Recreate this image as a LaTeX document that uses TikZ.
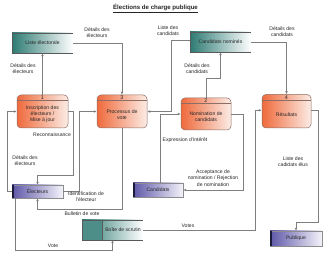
\documentclass[tikz,border=0pt]{standalone}
\usepackage{fontspec}
\setmainfont{Liberation Sans}
\usetikzlibrary{arrows.meta,calc}
\definecolor{procL}{HTML}{EF6A3C}
\definecolor{procR}{HTML}{FCECE5}
\definecolor{procB}{HTML}{8C6E64}
\definecolor{tealL}{HTML}{2E7B73}
\definecolor{extL}{HTML}{5E57A8}
\definecolor{extR}{HTML}{F4F3FA}
\definecolor{navyB}{HTML}{1B1B3A}
\definecolor{lineG}{HTML}{7F7F7F}
\definecolor{txt}{HTML}{262626}
\begin{document}
\begin{tikzpicture}[x=1pt,y=-1pt,
  flow/.style={draw=lineG, line width=0.55pt, -{Latex[length=3pt,width=2.6pt]}},
  lbl/.style={font=\fontsize{5.1}{6.3}\selectfont, align=center, inner sep=0, text=txt},
  proc/.style={rounded corners=4pt, draw=procB, line width=0.5pt, left color=procL, right color=procR, inner sep=0},
  hdr/.style={draw=procB, line width=0.5pt},
  num/.style={font=\fontsize{5.4}{6}\selectfont, inner sep=0, text=txt},
  store/.style={left color=tealL, right color=white, inner sep=0, minimum width=61, minimum height=20, font=\fontsize{5.1}{6.3}\selectfont, text=txt},
  storeline/.style={draw=black!65, line width=0.5pt},
  ext/.style={left color=extL, right color=extR, draw=black!45, line width=0.4pt, inner sep=0, font=\fontsize{5.1}{6.3}\selectfont, text=txt},
  extbar/.style={draw=navyB, line width=2pt}
]
\useasboundingbox[fill=white] (0,0) rectangle (330,253);

% title
\node[font=\fontsize{6.1}{7}\selectfont\bfseries, inner sep=0, text=txt] (title) at (155.5,8) {\underline{Élections de charge publique}};

% data stores
\node[store] (le) at (42.5,43) {Liste électorale};
\draw[storeline] (le.north west) -- (le.north east) (le.south west) -- (le.south east) (le.north west) -- (le.south west);
\node[store] (cn) at (220.5,42) {Candidats nominés};
\draw[storeline] (cn.north west) -- (cn.north east) (cn.south west) -- (cn.south east) (cn.north west) -- (cn.south west);

% processes
\node[proc, minimum width=51, minimum height=33] (p1) at (42.5,111.5) {};
\draw[hdr] ($(p1.north west)+(0,6)$) -- ($(p1.north east)+(0,6)$);
\node[num] (n1) at ($(p1.north)+(0,3.1)$) {1};
\node[lbl] (t1) at (42.5,114) {Inscription des\\électeurs /\\Mise à jour};

\node[proc, minimum width=50, minimum height=33] (p3) at (122,111.5) {};
\draw[hdr] ($(p3.north west)+(0,6)$) -- ($(p3.north east)+(0,6)$);
\node[num] (n3) at ($(p3.north)+(0,3.1)$) {3};
\node[lbl] (t3) at (122,114.5) {Processus de\\vote};

\node[proc, minimum width=50, minimum height=32] (p2) at (206,114) {};
\draw[hdr] ($(p2.north west)+(0,5.8)$) -- ($(p2.north east)+(0,5.8)$);
\node[num] (n2) at ($(p2.north)+(0,3)$) {2};
\node[lbl] (t2) at (206,116.5) {Nomination de\\candidats};

\node[proc, minimum width=49, minimum height=33.5] (p4) at (286.5,111.25) {};
\draw[hdr] ($(p4.north west)+(0,6)$) -- ($(p4.north east)+(0,6)$);
\node[num] (n4) at ($(p4.north)+(0,3.1)$) {4};
\node[lbl] (t4) at (286.5,115) {Résultats};

% externals
\node[ext, minimum width=51, minimum height=13] (el) at (37.5,191.5) {Électeurs};
\draw[extbar] ($(el.north west)+(1,0)$) -- ($(el.south west)+(1,0)$);
\node[ext, minimum width=50, minimum height=14] (ca) at (158,190) {Candidats};
\draw[extbar] ($(ca.north west)+(1,0)$) -- ($(ca.south west)+(1,0)$);
\node[ext, minimum width=52, minimum height=15] (pu) at (296,238.5) {Publique};
\draw[extbar] ($(pu.north west)+(1,0)$) -- ($(pu.south west)+(1,0)$);

% ballot box store
\node[store, minimum width=61, minimum height=20] (bs) at (112.5,230) {};
\fill[tealL!85] (bs.north west) rectangle ($(bs.south west)+(20,0)$);
\draw[storeline] (bs.north west) -- (bs.north east) (bs.south west) -- (bs.south east) (bs.north west) -- (bs.south west) ($(bs.north west)+(20,0)$) -- ($(bs.south west)+(20,0)$);
\node[lbl] (tbs) at (123,230) {Boîte de scrutin};

% connectors
\draw[flow] (p1.north) -- (le.south);
\draw[flow] (le.east) -| (p3.north);
\draw[flow] ($(cn.west)+(0,-2)$) -- ++(-19,0) |- (p3.east);
\draw[flow] (p2.north) |- ($(cn.south)+(0,26)$) -- (cn.south);
\draw[flow] (cn.east) -| (p4.north);
\draw[flow] ($(p4.east)+(0,-1)$) -- ++(7,0) |- ($(pu.north)+(0,-9)$) -- (pu.north);
\draw[flow] (bs.east) -| ($(p4.west)+(-6,-1)$) -- ($(p4.west)+(0,-1)$);
\draw[flow] (p2.east) -- ++(12,0) |- (ca.east);
\draw[flow] ($(ca.north)+(2,0)$) |- (p2.west);
\draw[flow] (p1.east) -- ++(5,0) |- ($(el.north)+(0,-10)$) -- (el.north);
\draw[flow] (el.west) -- ++(-5,0) |- (p1.west);
\draw[flow] (el.east) -- ++(16,0) |- (p3.west);
\draw[flow] (p3.south) |- ($(el.south)+(0,11)$) -- (el.south);
\draw[flow] ($(el.south west)+(3,0)$) |- ($(bs.south)+(0,10)$) -- (bs.south);

% labels
\node[lbl] (l1) at (97,32.5) {Détails des\\électeurs};
\node[lbl] (l2) at (23,69) {Détails des\\électeurs};
\node[lbl] (l3) at (168,30.5) {Liste des\\candidats};
\node[lbl] (l4) at (197,69) {Détails des\\candidats};
\node[lbl] (l5) at (282,32) {Détails des\\candidats};
\node[lbl] (l6) at (52,135) {Reconnaissance};
\node[lbl] (l7) at (25,161) {Détails des\\électeurs};
\node[lbl] (l8) at (185,140) {Expression d'intérêt};
\node[lbl] (l9) at (213,178) {Acceptance de\\nomination / Rejection\\de nomination};
\node[lbl] (l10) at (293,162) {Liste des\\cadidats élus};
\node[lbl] (l11) at (86,196.5) {Identification de\\l'électeur};
\node[lbl] (l12) at (82,213.5) {Bulletin de vote};
\node[lbl] (l13) at (53,246) {Vote};
\node[lbl] (l14) at (188,225.5) {Votes};
\end{tikzpicture}
\end{document}
